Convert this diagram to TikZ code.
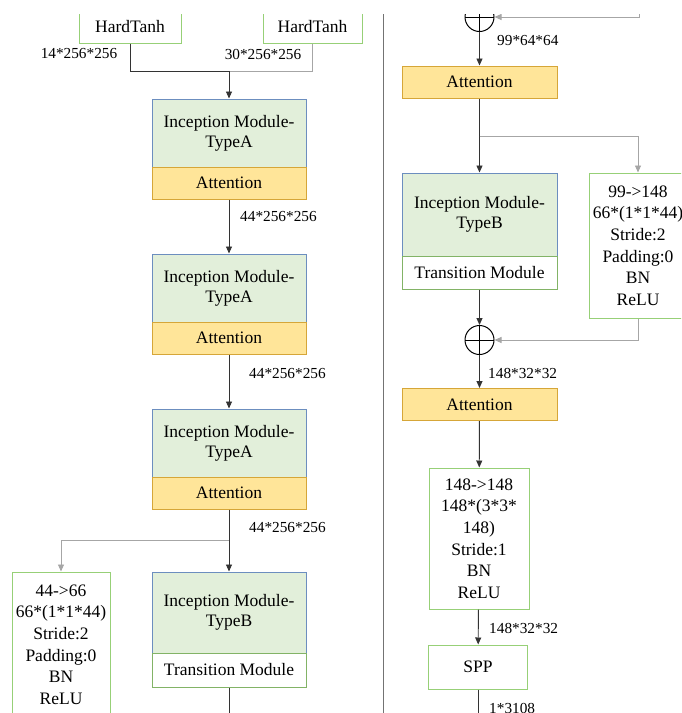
\documentclass[tikz,border=0pt]{standalone}
\usepackage{fontspec}
\setmainfont{Liberation Serif}
\usetikzlibrary{arrows.meta,positioning}

\definecolor{imfill}{HTML}{E2EFDA}
\definecolor{imdraw}{HTML}{6C8EBF}
\definecolor{atfill}{HTML}{FFE599}
\definecolor{atdraw}{HTML}{D6A638}
\definecolor{cvdraw}{HTML}{97D077}
\definecolor{trdraw}{HTML}{82B366}

\begin{document}
\begin{tikzpicture}[x=1pt,y=-1pt,
	module/.style={draw=imdraw, fill=imfill, line width=1pt, minimum width=154pt, align=center, inner sep=0pt, font=\fontsize{17.5}{20}\selectfont},
	attn/.style={draw=atdraw, fill=atfill, line width=1pt, minimum width=154pt, minimum height=32pt, inner sep=0pt, font=\fontsize{17.5}{20}\selectfont},
	trans/.style={draw=trdraw, fill=white, line width=1pt, minimum width=154pt, inner sep=0pt, font=\fontsize{17.5}{20}\selectfont},
	conv/.style={draw=cvdraw, fill=white, line width=1pt, minimum width=98pt, align=center, inner sep=0pt, font=\fontsize{17.5}{21.6}\selectfont},
	plus/.style={circle, draw=black, line width=1pt, minimum size=29pt, inner sep=0pt,
		path picture={\draw[line width=1pt] (path picture bounding box.north) -- (path picture bounding box.south) (path picture bounding box.west) -- (path picture bounding box.east);}},
	lbl/.style={inner sep=0pt, font=\fontsize{15.3}{18}\selectfont},
	link/.style={draw=black!80, line width=0.9pt},
	feed/.style={draw=black!35, line width=0.9pt},
	arr/.style={-{Triangle[length=7pt,width=6pt]}}]
	\useasboundingbox (0,0) rectangle (681,713);
	\clip (0,14) rectangle (681,713);

	% left column
	\node[conv, minimum width=102pt, minimum height=32pt] (ht1) at (130,27) {HardTanh};
	\node[conv, minimum width=99pt, minimum height=32pt] (ht2) at (312.5,27) {HardTanh};
	\node[lbl] (l14) at (79,54) {14*256*256};
	\node[lbl] (l30) at (263,54) {30*256*256};
	\coordinate (j1) at (229,71);

	\node[module, minimum height=68pt] (ima1) at (229,133) {Inception Module-\\TypeA};
	\node[attn] (att1) at (229,183) {Attention};
	\node[lbl, anchor=west] (l44a) at (240,217) {44*256*256};

	\node[module, minimum height=68pt] (ima2) at (229,288) {Inception Module-\\TypeA};
	\node[attn] (att2) at (229,338) {Attention};
	\node[lbl, anchor=west] (l44b) at (249,374) {44*256*256};

	\node[module, minimum height=68pt] (ima3) at (229,443) {Inception Module-\\TypeA};
	\node[attn] (att3) at (229,493) {Attention};
	\node[lbl, anchor=west] (l44c) at (249,528) {44*256*256};
	\coordinate (sp1) at (229,540);

	\node[conv, minimum height=145pt] (conv1) at (61,644.5) {44->66\\66*(1*1*44)\\Stride:2\\Padding:0\\BN\\ReLU};
	\node[module, minimum height=81pt] (imb1) at (229,612.5) {Inception Module-\\TypeB};
	\node[trans, minimum height=34pt] (tr1) at (229,670) {Transition Module};
	\coordinate (outL) at (229,725);

	\draw[link] (ht1.south) |- (j1);
	\draw[feed] (ht2.south) |- (j1);
	\draw[link, arr] (j1) -- (ima1);
	\draw[link, arr] (att1) -- (ima2);
	\draw[link, arr] (att2) -- (ima3);
	\draw[link, arr] (att3) -- (imb1);
	\draw[feed, arr] (sp1) -| (conv1.north);
	\draw[link] (tr1) -- (outL);

	% divider
	\draw[draw=black!55, line width=1pt] (383,0) -- (383,713);

	% right column
	\node[plus] (plus1) at (479.5,17) {};
	\coordinate (inR) at (639,0);
	\node[lbl, anchor=west] (l99) at (497,41) {99*64*64};
	\node[attn, minimum width=155pt] (att4) at (479.5,82) {Attention};
	\coordinate (sp2) at (479.5,136);

	\node[module, minimum width=155pt, minimum height=83pt] (imb2) at (479.5,214.5) {Inception Module-\\TypeB};
	\node[trans, minimum width=155pt, minimum height=33pt] (tr2) at (479.5,272.5) {Transition Module};
	\node[conv, minimum height=145pt] (conv2) at (638,245.5) {99->148\\66*(1*1*44)\\Stride:2\\Padding:0\\BN\\ReLU};

	\node[plus] (plus2) at (479.5,340) {};
	\node[lbl, anchor=west] (l148a) at (488,373) {148*32*32};
	\node[attn, minimum width=155pt] (att5) at (479.5,404.5) {Attention};

	\node[conv, minimum width=100pt, minimum height=141pt] (conv3) at (479,538.5) {148->148\\148*(3*3*\\148)\\Stride:1\\BN\\ReLU};
	\node[lbl, anchor=west] (l148b) at (489,628) {148*32*32};
	\node[conv, minimum width=99pt, minimum height=44pt] (spp) at (478,667) {SPP};
	\node[lbl, anchor=west] (l3108) at (489,708) {1*3108};
	\coordinate (outR) at (478,725);

	\draw[feed, arr] (inR) |- (plus1.east);
	\draw[link, arr] (plus1) -- (att4);
	\draw[link, arr] (att4) -- (imb2);
	\draw[feed, arr] (sp2) -| (conv2.north);
	\draw[link, arr] (tr2) -- (plus2);
	\draw[feed, arr] (conv2.south) |- (plus2.east);
	\draw[link, arr] (plus2) -- (att5);
	\draw[link, arr] (att5) -- (conv3);
	\draw[link, arr] (conv3) -- (spp);
	\draw[link] (spp) -- (outR);
\end{tikzpicture}
\end{document}
